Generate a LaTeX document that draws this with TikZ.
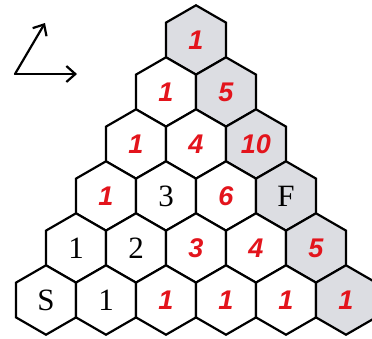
\documentclass[tikz,border=0pt]{standalone}
\usepackage{fontspec}
\setmainfont{Liberation Serif}
\newfontfamily\handfont{Liberation Sans}
\usetikzlibrary{shapes.geometric,arrows.meta}
\definecolor{hexgray}{HTML}{DCDDE2}
\definecolor{penred}{HTML}{E3141C}
\tikzset{
  hex/.style={draw=black, line width=2.2pt, regular polygon, regular polygon sides=6,
    shape border rotate=30, minimum size=69.4pt, inner sep=0pt, outer sep=0pt, fill=white,
    font=\fontsize{31}{34}\selectfont, line join=miter},
  shaded/.style={fill=hexgray},
  red/.style={text=penred, font=\handfont\bfseries\itshape\fontsize{27}{30}\selectfont},
  axisarrow/.style={line width=2.2pt, -{Straight Barb[length=9pt,width=16pt,line width=2.2pt]}, line cap=round}
}
\begin{document}
\begin{tikzpicture}[x=1pt,y=-1pt]
\useasboundingbox (0,0) rectangle (372,338);
% row 1
\node[hex,shaded,red] (h11) at (196,40) {1};
% row 2
\node[hex,red] (h21) at (166,92) {1};
\node[hex,shaded,red] (h22) at (226,92) {5};
% row 3
\node[hex,red] (h31) at (136,144) {1};
\node[hex,red] (h32) at (196,144) {4};
\node[hex,shaded,red] (h33) at (256,144) {10};
% row 4
\node[hex,red] (h41) at (106,196) {1};
\node[hex] (h42) at (166,196) {3};
\node[hex,red] (h43) at (226,196) {6};
\node[hex,shaded] (h44) at (286,196) {F};
% row 5
\node[hex] (h51) at (76,248) {1};
\node[hex] (h52) at (136,248) {2};
\node[hex,red] (h53) at (196,248) {3};
\node[hex,red] (h54) at (256,248) {4};
\node[hex,shaded,red] (h55) at (316,248) {5};
% row 6
\node[hex] (h61) at (46,300) {S};
\node[hex] (h62) at (106,300) {1};
\node[hex,red] (h63) at (166,300) {1};
\node[hex,red] (h64) at (226,300) {1};
\node[hex,red] (h65) at (286,300) {1};
\node[hex,shaded,red] (h66) at (346,300) {1};
% axes
\coordinate (o) at (15,74);
\coordinate (ex) at (77,74);
\coordinate (ey) at (45,23);
\draw[axisarrow] (o) -- (ex);
\draw[axisarrow] (o) -- (ey);
\end{tikzpicture}
\end{document}
